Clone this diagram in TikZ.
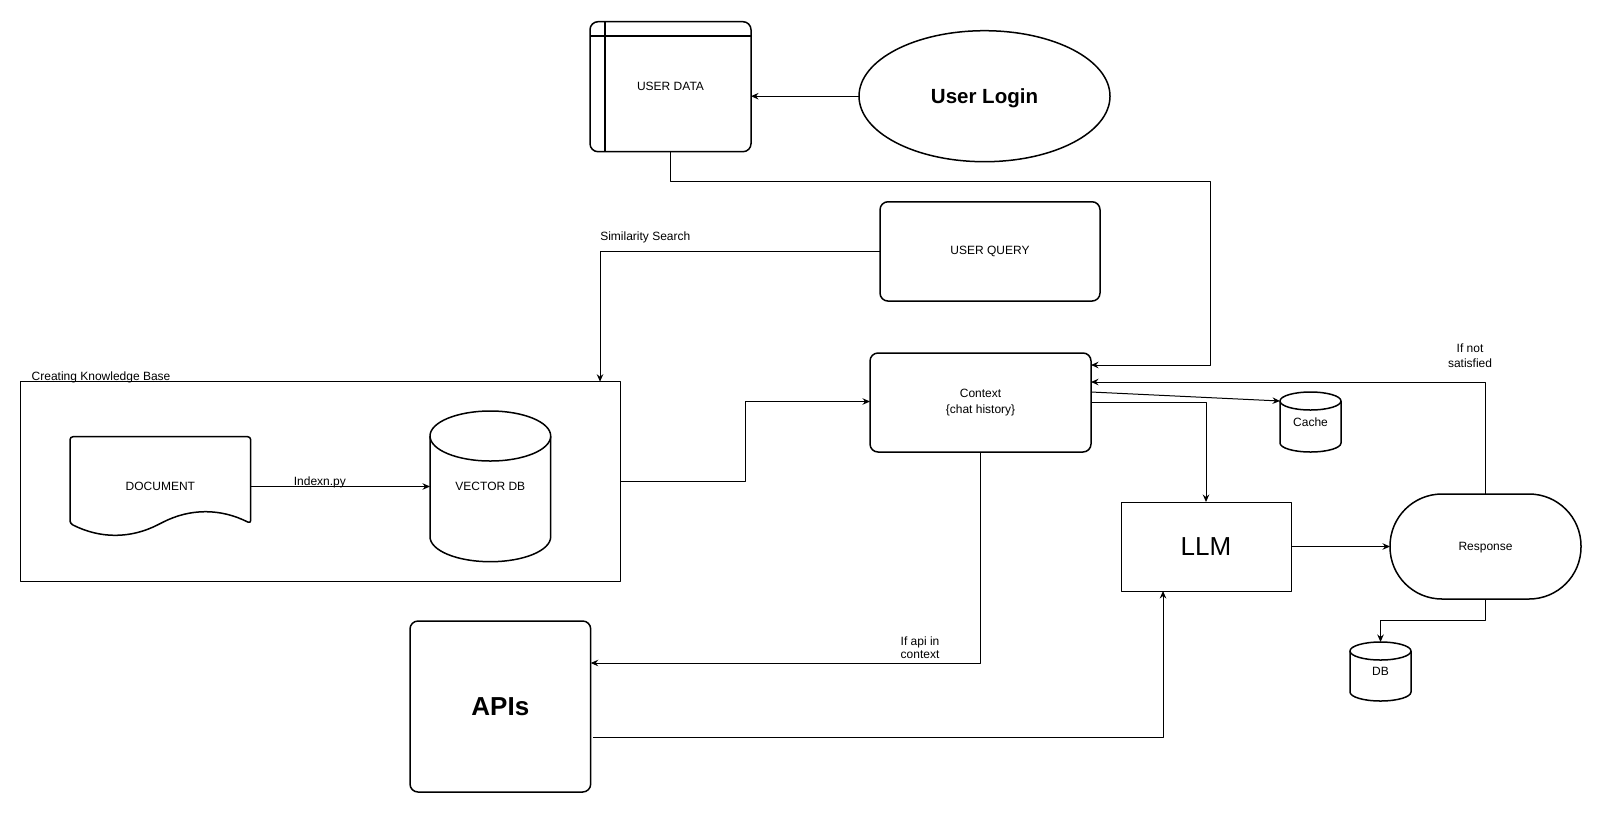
\documentclass[tikz,border=0pt]{standalone}
\usepackage{fontspec}
\setmainfont{Liberation Sans}
\usetikzlibrary{arrows.meta,shapes.geometric,calc}

\tikzset{
  shp/.style={draw, line width=1.5pt, fill=white},
  thinbox/.style={draw, line width=1pt},
  lbl/.style={font=\fontsize{12}{14.5}\selectfont},
  conn/.style={line width=1pt, -{Stealth[length=7.5pt,width=6.5pt,inset=2.5pt]}},
  every node/.style={inner sep=0pt, outer sep=0pt, font=\fontsize{12}{14.5}\selectfont}
}

% cx, ytop, ybot, rx, ry
\newcommand\dbcyl[5]{%
  \path[fill=white] (#1-#4,#2+#5) -- (#1-#4,#3-#5) arc[start angle=180,end angle=360,x radius=#4pt,y radius=#5pt] -- (#1+#4,#2+#5) -- cycle;
  \draw[line width=1.5pt] (#1-#4,#2+#5) -- (#1-#4,#3-#5) arc[start angle=180,end angle=360,x radius=#4pt,y radius=#5pt] -- (#1+#4,#2+#5);
  \draw[shp] (#1,#2+#5) ellipse[x radius=#4pt,y radius=#5pt];
}

\begin{document}
\begin{tikzpicture}[x=1pt,y=-1pt,line join=round]
\fill[white] (0,0) rectangle (1602,812);
\useasboundingbox (0,0) rectangle (1602,812);

% USER DATA
\node[shp, rounded corners=8pt, minimum width=161pt, minimum height=130pt] (ud) at (670.5,86.7) {USER DATA};
\draw[line width=1.5pt] ([xshift=15pt]ud.north west) -- ([xshift=15pt]ud.south west);
\draw[line width=1.5pt] ([yshift=-14.3pt]ud.north west) -- ([yshift=-14.3pt]ud.north east);

% User Login
\node[shp, ellipse, minimum width=251pt, minimum height=131pt, text depth=0pt, font=\bfseries\fontsize{20.5}{24}\selectfont] (login) at (984.5,96.2) {User Login};
\draw[conn] (login.west) -- (login.west -| ud.east);

% USER QUERY
\node[shp, rounded corners=8pt, minimum width=220pt, minimum height=99.3pt] (uq) at (990,251.4) {USER QUERY};

% Knowledge base group
\node[thinbox, minimum width=600.7pt, minimum height=199.3pt] (kb) at (320.35,481.35) {};
\node[lbl, anchor=base west] (kbl) at (31.7,380) {Creating Knowledge Base};

% DOCUMENT
\draw[shp, rounded corners=3pt] (70,523.5) -- (70,436.7) -- (250.7,436.7) -- (250.7,523.5)
  .. controls (220.57,508.2) and (190.45,508.2) .. (160.35,523.5)
  .. controls (130.25,538.8) and (100.13,538.8) .. (70,523.5) -- cycle;
\node[minimum width=180.7pt, minimum height=99.5pt] (doc) at (160.35,486.5) {DOCUMENT};

% VECTOR DB
\dbcyl{490.35}{411}{561.7}{60.35}{25}
\node[minimum width=120.7pt, minimum height=150.7pt] (vdb) at (490.35,486.35) {VECTOR DB};
\draw[conn] (doc.east) -- (doc.east -| vdb.west);
\node[lbl, anchor=base] (idx) at (319.9,485.3) {Indexn.py};

% Similarity search
\coordinate (ss) at (600,251.4);
\draw[conn] (uq.west) -- (ss) -- (ss |- kb.north);
\node[lbl, anchor=base] (ssl) at (645.3,240) {Similarity Search};

% Context
\node[shp, rounded corners=8pt, minimum width=221pt, minimum height=99pt, align=center, font=\fontsize{12}{16.5}\selectfont] (ctx) at (980.5,402.5) {Context\\\{chat history\}};
\coordinate (k1) at (745.7,0);
\draw[conn] (kb.east) -- (kb.east -| k1) |- ([yshift=1pt]ctx.west);

% USER DATA -> Context
\coordinate (u1) at (1210,181);
\draw[conn] (ud.south) |- (u1) |- ([yshift=37.5pt]ctx.east);

% Cache
\dbcyl{1310.5}{392}{452}{30.5}{9}
\node[minimum width=61pt, minimum height=60pt] (cache) at (1310.5,422) {Cache};
\draw[conn] ([yshift=10.5pt]ctx.east) -- ([yshift=21pt]cache.west);

% LLM
\node[thinbox, minimum width=170pt, minimum height=89pt, font=\fontsize{26}{30}\selectfont] (llm) at (1206,546.5) {LLM};
\draw[conn] ([yshift=0.5pt]ctx.east) -| (llm.north);

% Response
\node[shp, rounded corners=52pt, minimum width=191pt, minimum height=105pt, text depth=0pt] (resp) at (1485.5,546.5) {Response};
\draw[conn] (llm.east) -- (resp.west);
\draw[conn] (resp.north) |- ([yshift=20.5pt]ctx.east);
\node[lbl, align=center, font=\fontsize{12}{15}\selectfont] (ns) at (1470,356) {If not\\satisfied};

% DB
\dbcyl{1380.5}{642}{701}{30.5}{9}
\node[minimum width=61pt, minimum height=59pt] (db) at (1380.5,671.5) {DB};
\coordinate (r1) at (0,620);
\draw[conn] (resp.south) -- (resp.south |- r1) -| (db.north);

% APIs
\node[shp, rounded corners=8pt, minimum width=180.7pt, minimum height=171pt, font=\bfseries\fontsize{26}{30}\selectfont] (apis) at (500.35,706.5) {APIs};
\draw[conn] (ctx.south) |- ([yshift=43.5pt]apis.east);
\node[lbl, align=center, font=\fontsize{12}{13}\selectfont] (ai) at (920,648) {If api in\\context};
\draw[conn] ([xshift=2.5pt,yshift=-31.2pt]apis.east) -| ([xshift=-43pt]llm.south);

\end{tikzpicture}
\end{document}
